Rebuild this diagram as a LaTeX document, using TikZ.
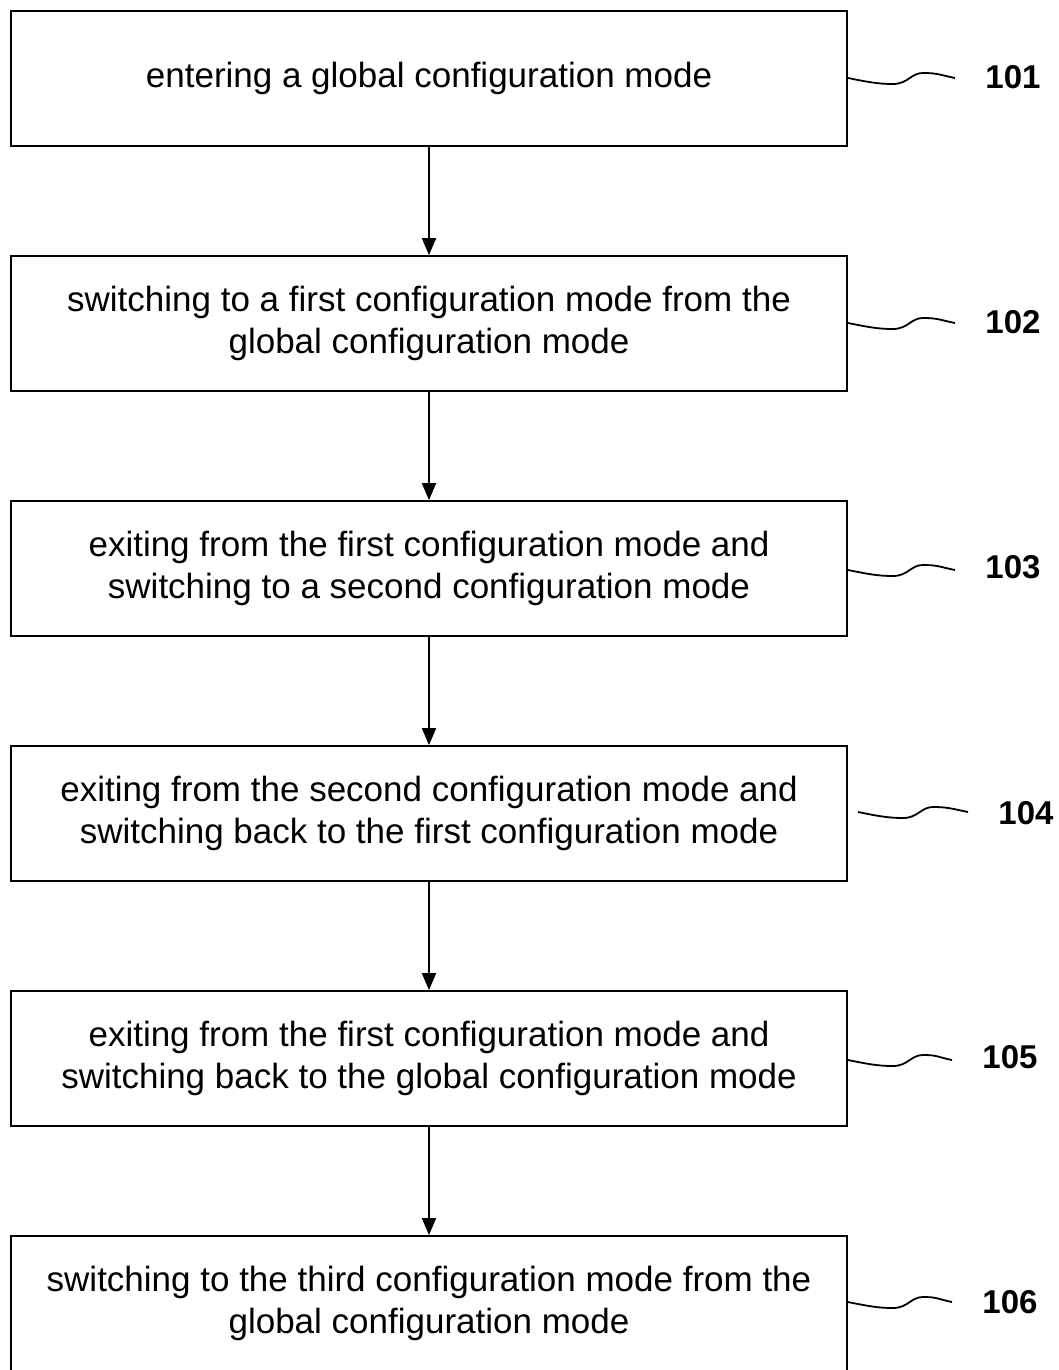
\documentclass[tikz,border=0pt]{standalone}
\usepackage{fontspec}
\setmainfont{Liberation Sans}
\usetikzlibrary{arrows.meta,calc}
\begin{document}
\begin{tikzpicture}[x=1pt,y=-1pt,
  stepbox/.style={draw,line width=1.8pt,minimum width=836pt,minimum height=135pt,inner sep=0pt,align=center,font=\fontsize{35}{42}\selectfont},
  flow/.style={line width=1.8pt,-{Triangle[length=17pt,width=14pt]}},
  wave/.style={line width=1.8pt},
  lbl/.style={font=\fontsize{33}{36}\selectfont\bfseries,anchor=center}]
\useasboundingbox (0,0) rectangle (1059,1370);
\clip (0,0) rectangle (1059,1370);
\node[stepbox] (b1) at (429,78.5) {entering a global configuration mode};
\node[stepbox] (b2) at (429,323.5) {switching to a first configuration mode from the\\global configuration mode};
\node[stepbox] (b3) at (429,568.5) {exiting from the first configuration mode and\\switching to a second configuration mode};
\node[stepbox] (b4) at (429,813.5) {exiting from the second configuration mode and\\switching back to the first configuration mode};
\node[stepbox] (b5) at (429,1058.5) {exiting from the first configuration mode and\\switching back to the global configuration mode};
\node[stepbox] (b6) at (429,1303.5) {switching to the third configuration mode from the\\global configuration mode};
\foreach \a/\b in {b1/b2,b2/b3,b3/b4,b4/b5,b5/b6}
  \draw[flow] (\a.south) -- (\b.north);
% reference labels
\node[lbl] (l1) at (1013,77) {101};
\node[lbl] (l2) at (1013,322) {102};
\node[lbl] (l3) at (1013,567) {103};
\node[lbl] (l4) at (1026,813) {104};
\node[lbl] (l5) at (1010,1057) {105};
\node[lbl] (l6) at (1010,1302) {106};
\coordinate (s4) at (858,812);
\foreach \s/\y/\e in {b1.east/78/955, b2.east/323/955, b3.east/570/955, s4/812/968, b5.east/1060/952, b6.east/1302/952}{
  \draw[wave] (\s |- 0,\y) .. controls +(20,4) and +(-15,0) .. +(45,6)
     .. controls +(15,0) and +(-12,0) .. ($(\s |- 0,\y)+(75,-5)$)
     .. controls +(15,0) and +(-15,-3) .. (\e,\y);
}
\end{tikzpicture}
\end{document}
